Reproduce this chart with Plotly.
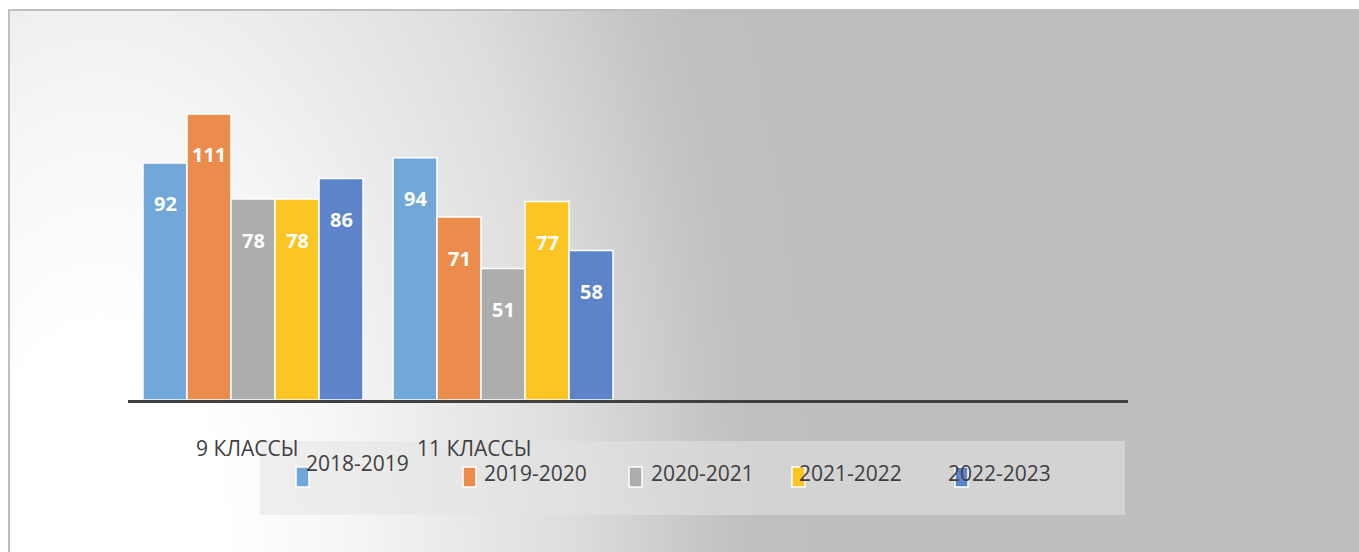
import base64
import plotly.graph_objects as go

# ---------------- data ----------------
categories = ["9 КЛАССЫ", "11 КЛАССЫ"]
series_names = ["2018-2019", "2019-2020", "2020-2021", "2021-2022", "2022-2023"]
values_2018_2019 = [92, 94]
values_2019_2020 = [111, 71]
values_2020_2021 = [78, 51]
values_2021_2022 = [78, 77]
values_2022_2023 = [86, 58]
series_values = [values_2018_2019, values_2019_2020, values_2020_2021,
                 values_2021_2022, values_2022_2023]

# ---------------- style ----------------
colors = ["#71a7d9", "#eb8c4d", "#adadad", "#fbc624", "#5d84c8"]
W, H = 1359, 552
FONT = "Open Sans, Liberation Sans, Arial, sans-serif"
TEXT_COLOR = "#404040"
BARGAP = 0.12
N_SLOTS = 4


def fx(x):
    return x / W


def fy(y):
    return 1 - y / H


# background gradient (radial from lower-left, tall ellipse) as an svg image
svg = """<svg xmlns='http://www.w3.org/2000/svg' width='1350' height='542' viewBox='0 0 1350 542'>
<defs><radialGradient id='g' gradientUnits='userSpaceOnUse' cx='91' cy='542' r='815'
 gradientTransform='translate(91 542) scale(1 1.8) translate(-91 -542)'>
<stop offset='0' stop-color='rgb(255,255,255)'/>
<stop offset='0.15' stop-color='rgb(255,255,255)'/>
<stop offset='0.29' stop-color='rgb(247,247,247)'/>
<stop offset='0.41' stop-color='rgb(236,236,236)'/>
<stop offset='0.58' stop-color='rgb(221,221,221)'/>
<stop offset='0.68' stop-color='rgb(207,207,207)'/>
<stop offset='0.75' stop-color='rgb(197,197,197)'/>
<stop offset='0.81' stop-color='rgb(191,191,191)'/>
<stop offset='1' stop-color='rgb(190,190,190)'/>
</radialGradient></defs>
<rect x='0' y='0' width='1350' height='542' fill='url(#g)'/></svg>"""
svg_uri = "data:image/svg+xml;base64," + base64.b64encode(svg.encode()).decode()

fig = go.Figure()
xs = list(range(len(categories)))
for name, vals, col in zip(series_names, series_values, colors):
    fig.add_trace(go.Bar(
        x=xs, y=vals, name=name,
        marker=dict(color=col, line=dict(color="white", width=1.5)),
        showlegend=False, hoverinfo="x+y+name",
    ))

# data labels (inside, ~41px below bar top)
n = len(series_names)
slot_w = (1 - BARGAP) / n
annotations = []
for i, vals in enumerate(series_values):
    for c, v in enumerate(vals):
        annotations.append(dict(
            x=c + (i - (n - 1) / 2) * slot_w, y=v, xref="x", yref="y",
            text=f"<b>{v}</b>", showarrow=False, yshift=-41,
            xanchor="center", yanchor="middle",
            font=dict(family=FONT, size=20, color="white"),
        ))

# category labels
cat_shifts = [-6, -29]
for c, (lab, sh) in enumerate(zip(categories, cat_shifts)):
    annotations.append(dict(
        x=c, y=0, xref="x", yref="y", text=lab, showarrow=False,
        xshift=sh, yshift=-48, xanchor="center", yanchor="middle",
        font=dict(family=FONT, size=21, color=TEXT_COLOR),
    ))

# manual legend
shapes = []
shapes.append(dict(type="rect", xref="paper", yref="paper",
                   x0=fx(260), x1=fx(1125), y0=fy(515), y1=fy(441),
                   fillcolor="rgba(228,228,228,0.55)", line=dict(width=0),
                   layer="below"))
marker_x = [296, 463, 629, 792, 955]
text_x = [304, 482, 649, 797, 946]
text_y = [463, 473, 473, 473, 473]
for name, col, mx, tx, ty in zip(series_names, colors, marker_x, text_x, text_y):
    shapes.append(dict(type="rect", xref="paper", yref="paper",
                       x0=fx(mx), x1=fx(mx + 13), y0=fy(487), y1=fy(467),
                       fillcolor=col, line=dict(color="white", width=1.5)))
    annotations.append(dict(
        x=fx(tx), y=fy(ty), xref="paper", yref="paper", text=name,
        showarrow=False, xanchor="left", yanchor="middle",
        font=dict(family=FONT, size=21, color=TEXT_COLOR),
    ))

# chart frame
shapes.append(dict(type="rect", xref="paper", yref="paper",
                   x0=fx(9), x1=fx(W + 5), y0=fy(H + 5), y1=fy(10),
                   line=dict(color="#bfbfbf", width=2), fillcolor="rgba(0,0,0,0)"))

fig.update_layout(
    width=W, height=H,
    margin=dict(l=0, r=0, t=0, b=0),
    paper_bgcolor="white",
    plot_bgcolor="rgba(0,0,0,0)",
    barmode="group", bargap=BARGAP, bargroupgap=0,
    xaxis=dict(domain=[fx(128), fx(1128)], range=[-0.5, N_SLOTS - 0.5],
               showline=True, linecolor="#404040", linewidth=3,
               showticklabels=False, showgrid=False, zeroline=False, ticks=""),
    yaxis=dict(domain=[fy(400), fy(90)], range=[0, 120.3],
               showticklabels=False, showgrid=False, zeroline=False,
               showline=False, ticks=""),
    images=[dict(source=svg_uri, xref="paper", yref="paper",
                 x=fx(9), y=fy(10), sizex=fx(1350), sizey=542 / H,
                 xanchor="left", yanchor="top", sizing="stretch",
                 layer="below")],
    annotations=annotations,
    shapes=shapes,
    font=dict(family=FONT),
)

fig.write_html("out.html", config={"displayModeBar": False},
               post_script="document.body.style.margin='0';document.body.style.overflow='hidden';")
